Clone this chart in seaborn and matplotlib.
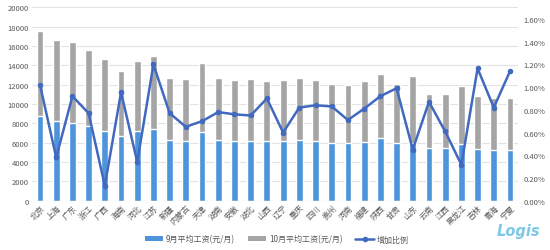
import numpy as np
import pandas as pd
import matplotlib
matplotlib.use("Agg")
import matplotlib.pyplot as plt
from matplotlib.patches import Patch
from matplotlib.lines import Line2D
import seaborn as sns

provinces = ["北京", "上海", "广东", "浙江", "广西", "海南", "河北", "江苏", "新疆", "内蒙古",
             "天津", "湖南", "安徽", "湖北", "山西", "辽宁", "重庆", "四川", "贵州", "河南",
             "福建", "陕西", "甘肃", "山东", "云南", "江西", "黑龙江", "吉林", "青海", "宁夏"]
sep_wage = [8780, 8260, 8020, 7730, 7230, 6710, 7200, 7400, 6290, 6190,
            7060, 6290, 6190, 6190, 6190, 6190, 6290, 6160, 5950, 5950,
            6090, 6470, 5920, 5950, 5440, 5440, 5850, 5330, 5260, 5230]
stack_top = [17580, 16580, 16440, 15580, 14620, 13380, 14470, 14990, 12680, 12550,
             14200, 12710, 12470, 12550, 12400, 12470, 12710, 12470, 12050, 11960,
             12340, 13130, 12050, 12920, 11030, 11030, 11890, 10820, 10640, 10580]
oct_wage = [t - s for t, s in zip(stack_top, sep_wage)]
ratio = [1.02, 0.38, 0.92, 0.77, 0.13, 0.955, 0.34, 1.20, 0.77, 0.65,
         0.70, 0.78, 0.76, 0.75, 0.90, 0.60, 0.82, 0.84, 0.83, 0.71,
         0.81, 0.92, 0.99, 0.45, 0.87, 0.61, 0.315, 1.165, 0.82, 1.14]
legend_labels = ["9月平均工资(元/月)", "10月平均工资(元/月)", "增加比例"]

sns.set_theme(style="white")
plt.rcParams['font.family'] = ['Noto Sans CJK SC', 'DejaVu Sans']

df = pd.DataFrame({"province": provinces, "sep": sep_wage, "oct": oct_wage})
df["total"] = df["sep"] + df["oct"]

blue = "#4E94DA"
gray = "#A5A5A5"
line_c = "#4169C0"
tick_c = "#595959"

fig = plt.figure(figsize=(5.5, 2.51), dpi=100)
ax = fig.add_axes([0.058, 0.197, 0.884, 0.77])
sns.barplot(data=df, x="province", y="total", color=gray, width=0.42, ax=ax, saturation=1)
sns.barplot(data=df, x="province", y="sep", color=blue, width=0.42, ax=ax, saturation=1)
ax.set_ylim(0, 20000)
ax.set_yticks(np.arange(0, 20001, 2000))
ax.set_xlim(-0.5, len(provinces) - 0.5)
ax.set_xlabel("")
ax.set_ylabel("")
ax.yaxis.grid(True, color="#E3E3E3", linewidth=0.8)
ax.set_axisbelow(True)
for s in ax.spines.values():
    s.set_visible(False)
ax.axhline(0, color="#D9D9D9", linewidth=0.8)
ax.tick_params(axis="y", labelsize=5.5, colors=tick_c, length=0, pad=2)
ax.tick_params(axis="x", labelsize=5.8, colors=tick_c, length=0, pad=1.5)
for lab in ax.get_xticklabels():
    lab.set_rotation(45)
    lab.set_ha("right")
    lab.set_rotation_mode("anchor")

ax2 = ax.twinx()
sns.lineplot(x=np.arange(len(provinces)), y=ratio, ax=ax2, color=line_c, linewidth=1.8,
             marker="o", markersize=4, markeredgewidth=0)
ax2.set_ylim(0, 1.704)
ax2.set_yticks(np.arange(0, 1.61, 0.2))
ax2.set_yticklabels([f"{v:.2f}%" for v in np.arange(0, 1.61, 0.2)])
ax2.tick_params(axis="y", labelsize=5.5, colors=tick_c, length=0, pad=4)
for s in ax2.spines.values():
    s.set_visible(False)
ax2.grid(False)

handles = [Patch(facecolor=blue, edgecolor="none"),
           Patch(facecolor=gray, edgecolor="none"),
           Line2D([0], [0], color=line_c, linewidth=1.8, marker="o", markersize=4, markeredgewidth=0)]
fig.legend(handles, legend_labels, loc="center", bbox_to_anchor=(0.503, 0.044), ncol=3,
           frameon=False, fontsize=5.8, handlelength=2.3, handleheight=0.45,
           columnspacing=1.6, handletextpad=0.3, labelcolor=tick_c)

fig.text(0.982, 0.076, "Logis", color="#7FC7E6", fontsize=10.5, fontstyle="italic",
         fontweight="bold", ha="right", va="center", family="DejaVu Sans")

fig.savefig("out.png", dpi=100)
